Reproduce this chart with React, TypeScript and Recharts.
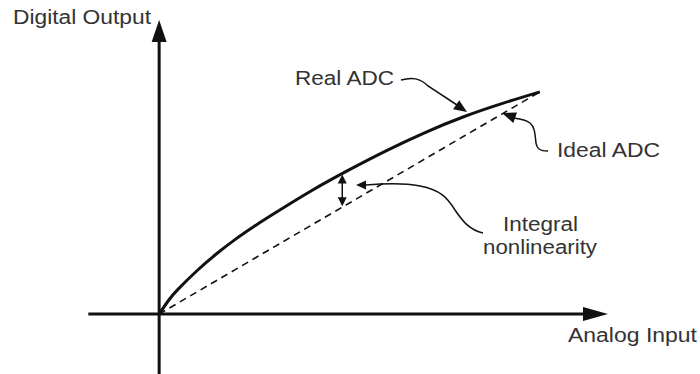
import React from "react";
import { ComposedChart, Line, XAxis, YAxis, ReferenceLine } from "recharts";

// transfer curve samples (normalised input / output, 0..10)
const inputX = [0, 0.25, 0.5, 1, 1.5, 2, 2.5, 3, 4, 5, 6, 7, 8, 9, 10];
const realOut = [0, 0.62, 1.12, 1.96, 2.7, 3.36, 3.95, 4.5, 5.55, 6.5, 7.38, 8.18, 8.88, 9.47, 10];
const idealOut = [0, 0.25, 0.5, 1, 1.5, 2, 2.5, 3, 4, 5, 6, 7, 8, 9, 10];

const data = inputX.map((x, i) => ({ x, real: realOut[i], ideal: idealOut[i] }));

const W = 700;
const H = 374;
const X_DOMAIN: [number, number] = [-2, 12];
const Y_DOMAIN: [number, number] = [-2.7, 13.1];
const MARGIN = { top: 23, right: 84, bottom: 0, left: 83 };

// same mapping recharts uses for the plot area (axes hidden => offset = margin)
const sx = (x: number) =>
  MARGIN.left + ((x - X_DOMAIN[0]) / (X_DOMAIN[1] - X_DOMAIN[0])) * (W - MARGIN.left - MARGIN.right);
const sy = (y: number) =>
  MARGIN.top + ((Y_DOMAIN[1] - y) / (Y_DOMAIN[1] - Y_DOMAIN[0])) * (H - MARGIN.top - MARGIN.bottom);

const INK = "#111";
const TEXT = "#333";
const FONT = '"Liberation Sans", Arial, sans-serif';

function head(tx: number, ty: number, fx: number, fy: number, len: number, hw: number) {
  const dx = tx - fx;
  const dy = ty - fy;
  const d = Math.hypot(dx, dy) || 1;
  const ux = dx / d;
  const uy = dy / d;
  const bx = tx - ux * len;
  const by = ty - uy * len;
  return `${tx},${ty} ${bx - uy * hw},${by + ux * hw} ${bx + uy * hw},${by - ux * hw}`;
}

function Label({ x, y, w, children }: { x: number; y: number; w: number; children: string }) {
  return (
    <text x={x} y={y} fontSize={19.5} fontFamily={FONT} fill={TEXT}
          textLength={w} lengthAdjust="spacingAndGlyphs">
      {children}
    </text>
  );
}

function Overlay() {
  const ox = sx(0);
  const oy = sy(0);
  const inlX = sx(4.81);
  const top = sy(6.33);
  const bot = sy(4.81);
  return (
    <svg width={W} height={H} style={{ position: "absolute", left: 0, top: 0, pointerEvents: "none" }}>
      {/* axis arrowheads */}
      <polygon points={head(608, oy, 583, oy, 25, 7)} fill={INK} />
      <polygon points={head(ox, 20, ox, 42, 22, 7.5)} fill={INK} />

      {/* integral nonlinearity double arrow */}
      <line x1={inlX} y1={top + 6} x2={inlX} y2={bot - 6} stroke={INK} strokeWidth={1.5} />
      <polygon points={head(inlX, top + 1, inlX, top + 10, 9, 4.5)} fill={INK} />
      <polygon points={head(inlX, bot - 1, inlX, bot - 10, 9, 4.5)} fill={INK} />

      {/* leaders */}
      <g fill="none" stroke={INK} strokeWidth={1.5}>
        <path d="M 401 80 C 412 77, 420 78, 428 86 L 457 105" />
        <path d="M 548 151 C 540 151, 537 149, 536 143 C 535 135, 535 127, 530 123 C 526 120, 521 119, 514 118" />
        <path d="M 483 233 C 470 230, 463 222, 455 210 C 447 197, 440 190, 420 186 C 405 183, 390 183, 366 185" />
      </g>
      <polygon points={head(467, 112, 428, 86, 13, 5.5)} fill={INK} />
      <polygon points={head(502, 113, 516, 118, 14, 5.5)} fill={INK} />
      <polygon points={head(356, 185, 370, 185, 10, 4.5)} fill={INK} />

      <Label x={13} y={24} w={138}>Digital Output</Label>
      <Label x={295} y={85} w={99}>Real ADC</Label>
      <Label x={557} y={157} w={103}>Ideal ADC</Label>
      <Label x={503} y={231} w={75}>Integral</Label>
      <Label x={483} y={254} w={114}>nonlinearity</Label>
      <Label x={568} y={342} w={129}>Analog Input</Label>
    </svg>
  );
}

export default function App() {
  return (
    <div style={{ position: "absolute", left: 0, top: 0, width: W, height: H, background: "#fff" }}>
      <ComposedChart width={W} height={H} data={data} margin={MARGIN}>
        <XAxis type="number" dataKey="x" domain={X_DOMAIN} hide allowDataOverflow />
        <YAxis type="number" domain={Y_DOMAIN} hide allowDataOverflow />
        <ReferenceLine segment={[{ x: -1.86, y: 0 }, { x: 11.2, y: 0 }]} stroke={INK} strokeWidth={3} ifOverflow="visible" />
        <ReferenceLine segment={[{ x: 0, y: -2.7 }, { x: 0, y: 12.3 }]} stroke={INK} strokeWidth={3} ifOverflow="visible" />
        <Line type="linear" dataKey="ideal" stroke={INK} strokeWidth={1.6} strokeDasharray="7 5"
              dot={false} isAnimationActive={false} />
        <Line type="natural" dataKey="real" stroke={INK} strokeWidth={3} dot={false} isAnimationActive={false} />
      </ComposedChart>
      <Overlay />
    </div>
  );
}
